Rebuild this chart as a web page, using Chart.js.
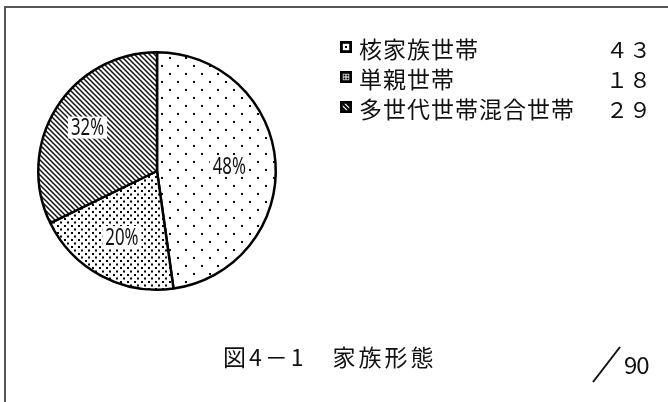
<!DOCTYPE html>
<html><head><meta charset="utf-8">
<script src="https://cdn.jsdelivr.net/npm/chart.js@4.4.0/dist/chart.umd.min.js"></script>
<style>
html,body{margin:0;padding:0;background:#fff;}
#wrap{position:relative;width:668px;height:402px;overflow:hidden;font-family:"Noto Sans CJK JP","Noto Sans",sans-serif;color:#111;}
#c{position:absolute;left:0;top:0;}
.fTop{position:absolute;left:4px;top:6px;width:664px;height:2px;background:#555;}
.fLeft{position:absolute;left:4px;top:6px;width:2px;height:396px;background:#555;}
.row{position:absolute;left:0;width:668px;height:28px;}
.mk{position:absolute;left:340px;top:7px;}
.lt{position:absolute;left:359px;top:0;font-size:23px;line-height:28px;letter-spacing:1px;white-space:nowrap;}
.lv{position:absolute;left:606px;top:0;font-size:22px;line-height:28px;letter-spacing:1px;white-space:nowrap;}
#title{position:absolute;left:223px;top:341px;font-size:23px;line-height:30px;letter-spacing:3px;white-space:nowrap;}
#total{position:absolute;left:624px;top:349px;font-size:24px;line-height:30px;letter-spacing:-1px;}
#slash{position:absolute;left:0;top:0;}
</style>
</head><body>
<div id="wrap">
<canvas id="c" width="668" height="402"></canvas>
<div class="fTop"></div><div class="fLeft"></div>
<div id="legend"></div>
<div id="title"></div>
<svg id="slash" width="668" height="402"><line x1="593" y1="382" x2="620" y2="347" stroke="#111" stroke-width="2"/></svg>
<div id="total"></div>
</div>
<script>
const categories = ['核家族世帯', '単親世帯', '多世代世帯混合世帯'];
const counts = [43, 18, 29];
const percentLabels = ['48%', '20%', '32%'];
const totalLabel = '90';
const titleText = '図4－1　家族形態';

function toFull(n){ return String(n).replace(/[0-9]/g, d => String.fromCharCode(d.charCodeAt(0) + 0xFEE0)); }

function makeTile(w, h, draw){
  const t = document.createElement('canvas'); t.width = w; t.height = h;
  const g = t.getContext('2d'); g.fillStyle = '#fff'; g.fillRect(0,0,w,h);
  g.fillStyle = '#000'; g.strokeStyle = '#111'; draw(g);
  return t;
}
const ctx = document.getElementById('c').getContext('2d');
const sparse = ctx.createPattern(makeTile(16,16,g=>{ g.fillRect(1,1,2,2); g.fillRect(9,9,2,2); }),'repeat');
const dense = ctx.createPattern(makeTile(7,7,g=>{ g.fillRect(1,1,2,2); g.fillRect(4,4.5,2,2); }),'repeat');
const hatch = ctx.createPattern(makeTile(5,5,g=>{
  g.lineWidth = 1.5; g.beginPath();
  g.moveTo(-1,-1); g.lineTo(6,6);
  g.moveTo(-1,4); g.lineTo(1,6);
  g.moveTo(4,-1); g.lineTo(6,1);
  g.stroke();
}),'repeat');
const fills = [sparse, dense, hatch];

// legend markers (12px boxes)
const markerDraw = [
  g=>{ g.fillRect(5,5,2,2); },
  g=>{ g.fillRect(3.5,3.5,2,2); g.fillRect(6.5,3.5,2,2); g.fillRect(3.5,6.5,2,2); g.fillRect(6.5,6.5,2,2); },
  g=>{ g.lineWidth=2; g.beginPath(); g.moveTo(2,2); g.lineTo(10,10); g.moveTo(2,6.5); g.lineTo(5.5,10); g.moveTo(6.5,2); g.lineTo(10,5.5); g.stroke(); }
];
const legend = document.getElementById('legend');
const rowTops = [34, 64, 94];
categories.forEach((name, i) => {
  const row = document.createElement('div'); row.className = 'row'; row.style.top = rowTops[i] + 'px';
  const mk = document.createElement('canvas'); mk.width = 12; mk.height = 12; mk.className = 'mk';
  const g = mk.getContext('2d'); g.fillStyle = '#fff'; g.fillRect(0,0,12,12);
  g.fillStyle = '#000'; g.strokeStyle = '#000'; markerDraw[i](g);
  g.lineWidth = 2.8; g.strokeRect(1.4,1.4,9.2,9.2);
  const lt = document.createElement('div'); lt.className = 'lt'; lt.textContent = name;
  const lv = document.createElement('div'); lv.className = 'lv'; lv.textContent = toFull(counts[i]);
  row.appendChild(mk); row.appendChild(lt); row.appendChild(lv); legend.appendChild(row);
});
document.getElementById('title').textContent = titleText;
document.getElementById('total').textContent = totalLabel;

const labelRadius = [0.61, 0.63, 0.69];
const pctPlugin = {
  id: 'pct',
  afterDatasetsDraw(chart){
    const c = chart.ctx; const meta = chart.getDatasetMeta(0);
    meta.data.forEach((arc, i) => {
      const p = arc.getProps(['x','y','startAngle','endAngle','outerRadius'], true);
      const mid = (p.startAngle + p.endAngle) / 2;
      const r = p.outerRadius * labelRadius[i];
      const x = p.x + Math.cos(mid) * r, y = p.y + Math.sin(mid) * r;
      c.save();
      c.font = '24px "Noto Sans", sans-serif';
      const w = c.measureText(percentLabels[i]).width * 0.7;
      c.fillStyle = '#fff';
      c.fillRect(x - w/2 - 3, y - 11, w + 6, 22);
      c.translate(x, y); c.scale(0.7, 1);
      c.fillStyle = '#111'; c.textAlign = 'center'; c.textBaseline = 'middle';
      c.fillText(percentLabels[i], 0, 1);
      c.restore();
    });
  }
};

new Chart(ctx, {
  type: 'pie',
  data: { labels: categories, datasets: [{ data: counts, backgroundColor: fills, borderColor: '#000', borderWidth: 2.5 }] },
  options: {
    responsive: false, animation: false,
    layout: { padding: { left: 37, top: 51, right: 391, bottom: 111 } },
    plugins: { legend: { display: false }, tooltip: { enabled: false } }
  },
  plugins: [pctPlugin]
});
</script>
</body></html>
